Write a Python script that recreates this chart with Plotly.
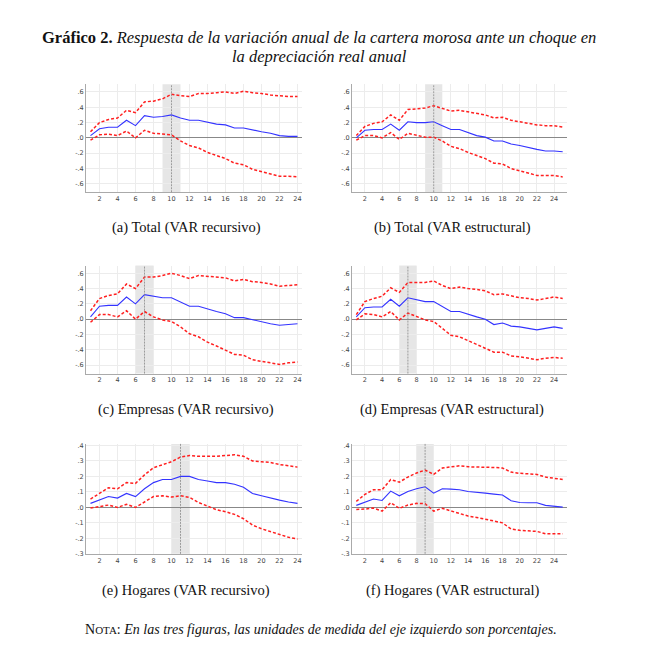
import plotly.graph_objects as go
from plotly.subplots import make_subplots

# horizontes (trimestres)
h24 = list(range(1, 25))
h25 = list(range(1, 26))

# (a) Total - VAR recursivo
a_med = [0.03, 0.12, 0.14, 0.14, 0.23, 0.16, 0.29, 0.27, 0.28, 0.30, 0.26, 0.23,
         0.23, 0.20, 0.18, 0.17, 0.13, 0.13, 0.10, 0.08, 0.06, 0.03, 0.02, 0.02]
a_up = [0.08, 0.20, 0.24, 0.26, 0.36, 0.33, 0.47, 0.48, 0.51, 0.57, 0.55, 0.54,
        0.58, 0.58, 0.59, 0.60, 0.58, 0.61, 0.59, 0.58, 0.56, 0.55, 0.54, 0.54]
a_lo = [-0.03, 0.04, 0.05, 0.03, 0.09, 0.00, 0.10, 0.06, 0.05, 0.04, -0.04, -0.10,
        -0.13, -0.19, -0.23, -0.27, -0.33, -0.35, -0.41, -0.44, -0.47, -0.50, -0.50, -0.51]

# (b) Total - VAR estructural
b_med = [0.00, 0.10, 0.11, 0.11, 0.18, 0.10, 0.21, 0.20, 0.20, 0.21, 0.16, 0.11, 0.11,
         0.07, 0.03, 0.01, -0.04, -0.04, -0.08, -0.10, -0.13, -0.15, -0.17, -0.17, -0.18]
b_up = [0.03, 0.15, 0.19, 0.21, 0.30, 0.23, 0.37, 0.38, 0.39, 0.42, 0.39, 0.35, 0.36,
        0.34, 0.32, 0.30, 0.26, 0.27, 0.23, 0.21, 0.19, 0.17, 0.16, 0.16, 0.14]
b_lo = [-0.03, 0.03, 0.03, 0.00, 0.07, -0.02, 0.06, 0.03, 0.01, 0.01, -0.04, -0.11, -0.14,
        -0.19, -0.23, -0.27, -0.33, -0.34, -0.40, -0.43, -0.46, -0.49, -0.49, -0.49, -0.51]

# (c) Empresas - VAR recursivo
c_med = [0.03, 0.17, 0.18, 0.18, 0.29, 0.20, 0.32, 0.30, 0.28, 0.28, 0.23, 0.17,
         0.17, 0.13, 0.10, 0.07, 0.02, 0.02, -0.01, -0.03, -0.06, -0.08, -0.07, -0.06]
c_up = [0.11, 0.27, 0.31, 0.33, 0.46, 0.40, 0.55, 0.55, 0.57, 0.60, 0.57, 0.53,
        0.57, 0.56, 0.55, 0.54, 0.50, 0.52, 0.49, 0.48, 0.46, 0.43, 0.44, 0.45]
c_lo = [-0.04, 0.06, 0.06, 0.03, 0.11, 0.00, 0.10, 0.03, -0.01, -0.03, -0.10, -0.19,
        -0.23, -0.30, -0.35, -0.40, -0.46, -0.47, -0.53, -0.55, -0.57, -0.59, -0.57, -0.56]

# (d) Empresas - VAR estructural
d_med = [0.03, 0.15, 0.16, 0.16, 0.26, 0.17, 0.28, 0.25, 0.23, 0.23, 0.17, 0.10, 0.10,
         0.06, 0.03, 0.00, -0.07, -0.05, -0.09, -0.10, -0.12, -0.14, -0.12, -0.10, -0.12]
d_up = [0.06, 0.23, 0.27, 0.30, 0.41, 0.35, 0.48, 0.48, 0.48, 0.50, 0.44, 0.40, 0.42,
        0.40, 0.39, 0.37, 0.32, 0.33, 0.30, 0.28, 0.27, 0.25, 0.27, 0.29, 0.27]
d_lo = [-0.01, 0.07, 0.06, 0.03, 0.10, -0.01, 0.08, 0.03, -0.01, -0.03, -0.12, -0.21, -0.23,
        -0.28, -0.33, -0.37, -0.43, -0.43, -0.48, -0.49, -0.51, -0.53, -0.51, -0.50, -0.51]

# (e) Hogares - VAR recursivo
e_med = [0.026, 0.05, 0.07, 0.06, 0.09, 0.07, 0.12, 0.16, 0.18, 0.18, 0.20, 0.20,
         0.18, 0.17, 0.16, 0.16, 0.15, 0.13, 0.09, 0.075, 0.06, 0.047, 0.035, 0.026]
e_up = [0.054, 0.09, 0.127, 0.12, 0.16, 0.155, 0.21, 0.256, 0.277, 0.295, 0.325, 0.335,
        0.33, 0.33, 0.33, 0.335, 0.34, 0.33, 0.30, 0.295, 0.29, 0.277, 0.267, 0.26]
e_lo = [-0.004, 0.006, 0.015, 0.0, 0.02, 0.0, 0.035, 0.07, 0.075, 0.067, 0.075, 0.065,
        0.032, 0.006, -0.015, -0.028, -0.045, -0.073, -0.114, -0.138, -0.155, -0.176, -0.193, -0.204]

# (f) Hogares - VAR estructural
f_med = [0.013, 0.035, 0.054, 0.045, 0.105, 0.075, 0.103, 0.12, 0.133, 0.092, 0.12, 0.118, 0.114,
         0.103, 0.099, 0.092, 0.086, 0.08, 0.043, 0.032, 0.03, 0.03, 0.013, 0.009, 0.002]
f_up = [0.039, 0.084, 0.114, 0.114, 0.18, 0.163, 0.196, 0.222, 0.241, 0.213, 0.254, 0.26, 0.269,
        0.262, 0.262, 0.26, 0.258, 0.254, 0.228, 0.22, 0.217, 0.213, 0.196, 0.19, 0.18]
f_lo = [-0.013, -0.011, -0.004, -0.024, 0.03, -0.006, 0.015, 0.026, 0.024, -0.024, -0.006, -0.022, -0.037,
        -0.056, -0.065, -0.075, -0.088, -0.1, -0.14, -0.148, -0.15, -0.155, -0.17, -0.172, -0.17]

panels = [
    ("(a) Total (VAR recursivo)", h24, a_med, a_up, a_lo, 10),
    ("(b) Total (VAR estructural)", h25, b_med, b_up, b_lo, 10),
    ("(c) Empresas (VAR recursivo)", h24, c_med, c_up, c_lo, 7),
    ("(d) Empresas (VAR estructural)", h25, d_med, d_up, d_lo, 7),
    ("(e) Hogares (VAR recursivo)", h24, e_med, e_up, e_lo, 11),
    ("(f) Hogares (VAR estructural)", h25, f_med, f_up, f_lo, 9),
]

ticks_big = [0.6, 0.4, 0.2, 0.0, -0.2, -0.4, -0.6]
ticks_big_txt = [".6", ".4", ".2", ".0", "-.2", "-.4", "-.6"]
ticks_small = [0.4, 0.3, 0.2, 0.1, 0.0, -0.1, -0.2, -0.3]
ticks_small_txt = [".4", ".3", ".2", ".1", ".0", "-.1", "-.2", "-.3"]
x_ticks = list(range(2, 25, 2))

# page has an 8px body margin, so the figure is smaller and positions shifted
OFF = 8
W, H = 649 - 2 * OFF, 657 - 2 * OFF
col_px = [(86, 302), (352, 567)]
row_px = [(83, 192), (266, 375), (446, 557)]
caption_x = [186, 452]
caption_y = [228, 411, 594]


def px(v):
    return (v - OFF) / W


def py(v):
    return 1 - (v - OFF) / H


fig = make_subplots(rows=3, cols=2)
serif = "Liberation Serif"
tick_font = dict(size=6.5, color="#444444", family="DejaVu Sans")
annotations = []
shapes = []
for i, (cap, x, med, up, lo, shock) in enumerate(panels):
    r, c = i // 2, i % 2
    n = i + 1
    xa = "x" if n == 1 else f"x{n}"
    ya = "y" if n == 1 else f"y{n}"
    fig.add_trace(go.Scatter(x=x, y=up, mode="lines", line=dict(color="#ff2020", width=1.5, dash="3px,2px"),
                             showlegend=False), row=r + 1, col=c + 1)
    fig.add_trace(go.Scatter(x=x, y=lo, mode="lines", line=dict(color="#ff2020", width=1.5, dash="3px,2px"),
                             showlegend=False), row=r + 1, col=c + 1)
    fig.add_trace(go.Scatter(x=x, y=med, mode="lines", line=dict(color="#3333ff", width=1.1),
                             showlegend=False), row=r + 1, col=c + 1)
    shapes.append(dict(type="rect", xref=xa, yref=f"{ya} domain", x0=shock - 1, x1=shock + 1, y0=0, y1=1,
                       fillcolor="rgba(200,200,200,0.45)", line=dict(width=0), layer="below"))
    shapes.append(dict(type="line", xref=xa, yref=f"{ya} domain", x0=shock, x1=shock, y0=0, y1=1,
                       line=dict(color="#888888", width=0.8, dash="2px,1px")))
    big = r < 2
    x0, x1 = col_px[c]
    y0, y1 = row_px[r]
    fig.update_xaxes(domain=[px(x0), px(x1)], range=[0.5, len(x) + 0.5], tickvals=x_ticks,
                     showgrid=True, gridcolor="#ececec", showline=True, linecolor="#aaaaaa",
                     zeroline=False, ticks="", tickfont=tick_font, row=r + 1, col=c + 1)
    fig.update_yaxes(domain=[py(y1), py(y0)],
                     range=[-0.71, 0.7] if big else [-0.3, 0.41],
                     tickvals=ticks_big if big else ticks_small,
                     ticktext=ticks_big_txt if big else ticks_small_txt,
                     showgrid=True, gridcolor="#ececec", showline=True, linecolor="#aaaaaa",
                     zeroline=True, zerolinecolor="#888888", zerolinewidth=1.2, ticks="",
                     tickfont=tick_font, row=r + 1, col=c + 1)
    annotations.append(dict(text=cap, x=px(caption_x[c]), y=py(caption_y[r]), xref="paper", yref="paper",
                            showarrow=False, xanchor="center", yanchor="middle",
                            font=dict(family=serif, size=14.5, color="#111111")))

annotations.append(dict(
    text="<b>Gráfico 2.</b> <i>Respuesta de la variación anual de la cartera morosa ante un choque en</i>",
    x=px(319), y=py(36), xref="paper", yref="paper", showarrow=False, xanchor="center", yanchor="middle",
    font=dict(family=serif, size=16.5, color="#111111")))
annotations.append(dict(
    text="<i>la depreciación real anual</i>",
    x=px(319), y=py(55), xref="paper", yref="paper", showarrow=False, xanchor="center", yanchor="middle",
    font=dict(family=serif, size=16.5, color="#111111")))
annotations.append(dict(
    text="N<span style='font-size:11px'>OTA</span>: <i>En las tres figuras, las unidades de medida del eje izquierdo son porcentajes.</i>",
    x=px(321), y=py(633), xref="paper", yref="paper", showarrow=False, xanchor="center", yanchor="middle",
    font=dict(family=serif, size=14, color="#111111")))

fig.update_layout(width=W, height=H, margin=dict(l=0, r=0, t=0, b=0), plot_bgcolor="white",
                  paper_bgcolor="white", annotations=annotations, shapes=shapes)
fig.write_html("out.html")
